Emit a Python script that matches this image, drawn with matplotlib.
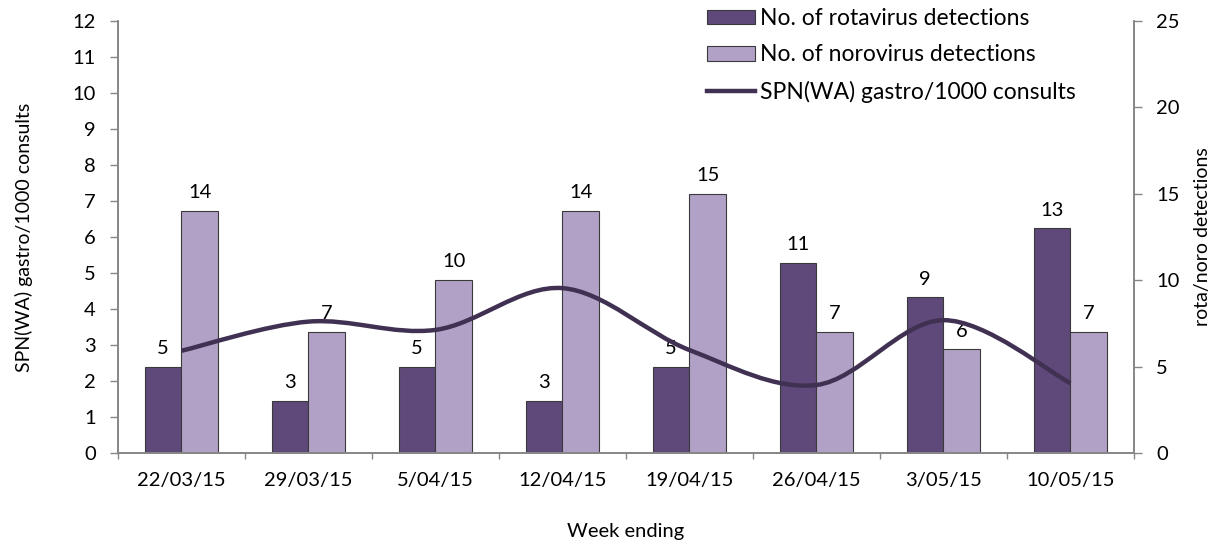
import numpy as np
import matplotlib
matplotlib.use("Agg")
import matplotlib.pyplot as plt
from matplotlib.path import Path
from matplotlib.patches import PathPatch
from matplotlib.lines import Line2D

# data
weeks = ["22/03/15", "29/03/15", "5/04/15", "12/04/15",
         "19/04/15", "26/04/15", "3/05/15", "10/05/15"]
rota = [5, 3, 5, 3, 5, 11, 9, 13]
noro = [14, 7, 10, 14, 15, 7, 6, 7]
gastro = [2.84, 3.65, 3.42, 4.58, 2.86, 1.89, 3.69, 1.94]

rota_col = "#5F497A"
noro_col = "#B2A1C7"
line_col = "#403152"
spine_col = "#868686"

plt.rcParams["font.family"] = ["Lato", "DejaVu Sans"]
plt.rcParams["font.size"] = 14.5


def smooth_path(xs, ys):
    """bezier path through the points, like excel's smoothed line"""
    pts = np.column_stack([xs, ys]).astype(float)
    ext = np.vstack([pts[0], pts, pts[-1]])
    verts = [pts[0]]
    codes = [Path.MOVETO]
    for i in range(len(pts) - 1):
        p0, p1, p2, p3 = ext[i], ext[i + 1], ext[i + 2], ext[i + 3]
        c1 = p1 + (p2 - p0) / 6.0
        c2 = p2 - (p3 - p1) / 6.0
        verts += [c1, c2, p2]
        codes += [Path.CURVE4] * 3
    return Path(verts, codes)


fig = plt.figure(figsize=(12.2, 5.46), dpi=100)
ax = fig.add_axes([0.0967, 0.1703, 0.8328, 0.7912])
ax2 = ax.twinx()
ax.set_zorder(ax2.get_zorder() + 1)
ax.patch.set_visible(False)

x = np.arange(len(weeks))
w = 0.29
b1 = ax2.bar(x - w / 2, rota, w, color=rota_col, edgecolor="#3a3a3a", linewidth=0.8)
b2 = ax2.bar(x + w / 2, noro, w, color=noro_col, edgecolor="#3a3a3a", linewidth=0.8)
ax2.bar_label(b1, padding=7, fontsize=14.5)
ax2.bar_label(b2, padding=7, fontsize=14.5)

ax.add_patch(PathPatch(smooth_path(x, gastro), facecolor="none",
                       edgecolor=line_col, linewidth=3.2, capstyle="butt"))

ax.set_xlim(-0.5, len(weeks) - 0.5)
ax.set_ylim(0, 12)
ax2.set_ylim(0, 25)
ax.set_yticks(range(0, 13))
ax2.set_yticks(range(0, 26, 5))

ax.set_xticks(x)
ax.set_xticklabels(weeks)
ax.set_xticks(np.arange(-0.5, len(weeks)), minor=True)
ax.tick_params(axis="x", which="major", length=0, pad=14)
ax.tick_params(axis="x", which="minor", length=4.5, color=spine_col, width=1)
ax.tick_params(axis="y", length=6, color=spine_col, width=1, pad=10)
ax2.tick_params(axis="y", length=6, color=spine_col, width=1, pad=10)
ax2.tick_params(axis="x", length=0)

for a in (ax, ax2):
    a.spines["top"].set_visible(False)
    for s in ("left", "right", "bottom"):
        a.spines[s].set_color(spine_col)
        a.spines[s].set_linewidth(1.2)

ax.set_xlabel("Week ending", fontsize=14.5, labelpad=24)
ax.set_ylabel("SPN(WA) gastro/1000 consults", fontsize=14, labelpad=28)
ax2.set_ylabel("rota/noro detections", fontsize=14, labelpad=10)

handles = [b1, b2, Line2D([], [], color=line_col, linewidth=3.2)]
labels = ["No. of rotavirus detections", "No. of norovirus detections",
          "SPN(WA) gastro/1000 consults"]
fig.legend(handles, labels, loc="upper left", bbox_to_anchor=(707 / 1220, 0.985),
           frameon=False, fontsize=16.5, handlelength=2.1, handleheight=0.6,
           handletextpad=0.2, labelspacing=0.66, borderpad=0, borderaxespad=0)

fig.savefig("out.png", dpi=100)
